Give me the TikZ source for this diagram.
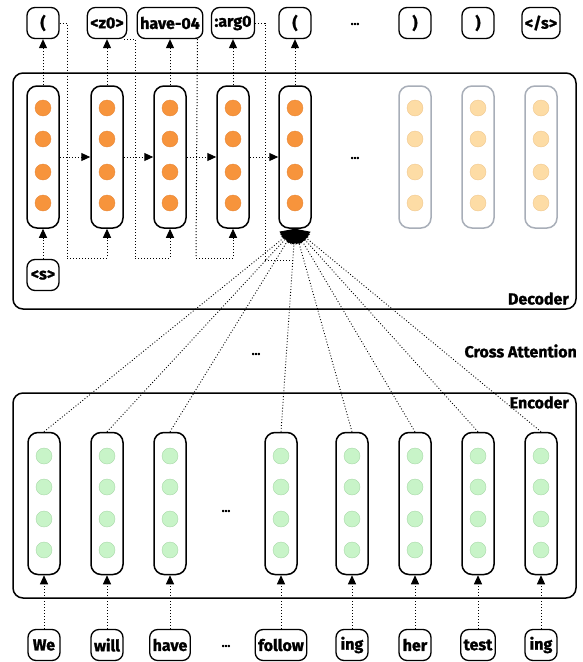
\documentclass[tikz,border=0pt]{standalone}
\usepackage{fontspec}
\setmainfont{Fira Sans}[BoldFeatures={FakeBold=1.2}]
\usetikzlibrary{arrows.meta,calc}
\definecolor{dorange}{HTML}{F7943C}
\definecolor{dorangeb}{HTML}{E8893A}
\definecolor{lorange}{HTML}{FDDCA5}
\definecolor{lorangeb}{HTML}{F0C890}
\definecolor{lgreen}{HTML}{C8F4C8}
\definecolor{lgreenb}{HTML}{A8D8A8}
\definecolor{greyb}{HTML}{A8AEB8}
\begin{document}
\begin{tikzpicture}[x=1pt,y=-1pt,
  tok/.style={draw,line width=1.3pt,rounded corners=8pt,minimum width=32pt,minimum height=31pt,inner xsep=3pt,font=\fontsize{16}{18}\selectfont\bfseries},
  col/.style={draw,line width=1.5pt,rounded corners=10pt,minimum width=32pt,minimum height=142pt},
  lcol/.style={col,draw=greyb},
  frame/.style={draw,line width=1.5pt,rounded corners=10pt},
  lbl/.style={font=\fontsize{16}{18}\selectfont\bfseries},
  dots/.style={font=\fontsize{12}{14}\selectfont\bfseries},
  arr/.style={dotted,line width=1pt,-{Triangle[length=9pt,width=8pt]}},
  dl/.style={dotted,line width=1pt},
]
\useasboundingbox (0,0) rectangle (583,662);
% frames
\draw[frame] (13,73) rectangle (576,309);
\node[lbl,anchor=south east,inner sep=2pt] (declbl) at (571,307) {Decoder};
\draw[frame] (13,393) rectangle (576,598);
\node[lbl,anchor=north east,inner sep=2pt] (enclbl) at (571,394) {Encoder};
\node[lbl,anchor=east,inner sep=0pt] (xatt) at (577,351) {Cross Attention};
\node[dots] (xdots) at (256,354) {...};

% decoder columns
\foreach \i/\x in {1/43,2/107,3/170,4/233,5/295}{
  \node[col] (d\i) at (\x,157) {};
  \foreach \y in {108,139,172,203}{
    \fill[dorange,draw=dorangeb,line width=0.4pt] (\x,\y) circle (8pt);
  }
}
\foreach \i/\x in {6/415,7/478,8/541}{
  \node[lcol] (d\i) at (\x,157) {};
  \foreach \y in {108,139,172,203}{
    \fill[lorange,draw=lorangeb,line width=0.4pt] (\x,\y) circle (8pt);
  }
}
\node[dots] (ddots) at (355,158) {...};

% top tokens
\node[tok] (t1) at (43,23) {(};
\node[tok] (t2) at (107,23) {<z0>};
\node[tok] (t3) at (170,23) {have-04};
\node[tok] (t4) at (233,23) {:arg0};
\node[tok] (t5) at (295,23) {(};
\node[dots] (tdots) at (355,24) {...};
\node[tok] (t6) at (415,23) {)};
\node[tok] (t7) at (478,23) {)};
\node[tok] (t8) at (541,23) {</s>};
\node[tok] (s) at (43,275) {<s>};

\foreach \i in {1,...,5}{ \draw[arr] (d\i.north) -- (t\i.south); }
\foreach \i/\j in {1/2,2/3,3/4,4/5}{ \draw[arr] (d\i.east) -- (d\j.west); }
\draw[arr] (s.north) -- (d1.south);

% feedback
\coordinate (f1) at (67,258);
\coordinate (f2) at (135,258);
\coordinate (f3) at (196,258);
\coordinate (f4) at (265,260);
\draw[dl] (t1.east) -| (f1);
\draw[arr] (f1) -| (d2.south);
\draw[dl] (t2.south east) ++(-3,0) -| (f2);
\draw[arr] (f2) -| (d3.south);
\draw[dl] (t3.south east) ++(-6,0) -- (f3);
\draw[arr] (f3) -| (d4.south);
\draw[dl] (t4.east) -| (f4);
\draw[dl] (f4) -- (293,260);

% encoder columns
\foreach \i/\x in {1/44,2/107,3/170,4/281,5/352,6/415,7/478,8/541}{
  \node[col] (e\i) at (\x,503.5) {};
  \foreach \y in {456,487,519,550}{
    \fill[lgreen,draw=lgreenb,line width=0.4pt] (\x,\y) circle (8pt);
  }
}
\node[dots] (edots) at (226,511) {...};

% bottom tokens
\node[tok] (b1) at (44,645) {We};
\node[tok] (b2) at (107,645) {will};
\node[tok] (b3) at (170,645) {have};
\node[tok] (b4) at (281,645) {follow};
\node[tok] (b5) at (352,645) {ing};
\node[tok] (b6) at (415,645) {her};
\node[tok] (b7) at (478,645) {test};
\node[tok] (b8) at (541,645) {ing};
\node[dots] (bdots) at (226,646) {...};
\foreach \i in {1,...,8}{ \draw[arr] (b\i.north) -- (e\i.south); }

% cross attention
\foreach \i in {1,...,8}{
  \draw[dotted,line width=0.9pt,-{Triangle[length=14pt,width=15pt]}] (e\i.north) -- (d5.south);
}
\end{tikzpicture}
\end{document}
